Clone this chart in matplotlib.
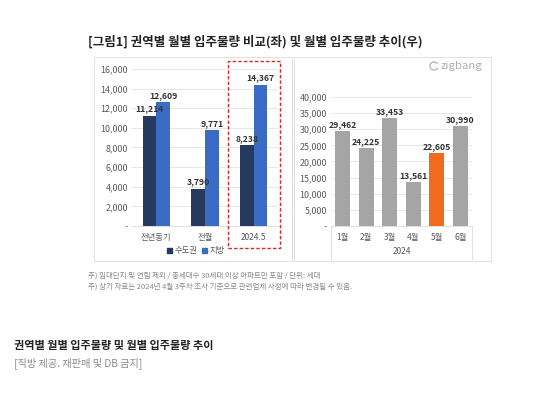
"""
Zigbang chart: regional move-in volume comparison (left) and monthly trend (right).
"""

import matplotlib

matplotlib.use("Agg")
import matplotlib.pyplot as plt
from matplotlib.patches import Rectangle, Arc
from matplotlib.lines import Line2D

plt.rcParams["font.family"] = ["Noto Sans CJK KR", "DejaVu Sans"]

W, H = 546, 397

# left chart data
periods = ["전년동기", "전월", "2024.5"]
capital = [11214, 3790, 8238]
regional = [12609, 9771, 14367]
left_yticks = [0, 2000, 4000, 6000, 8000, 10000, 12000, 14000, 16000]

# right chart data
months = ["1월", "2월", "3월", "4월", "5월", "6월"]
monthly = [29462, 24225, 33453, 13561, 22605, 30990]
right_yticks = [0, 5000, 10000, 15000, 20000, 25000, 30000, 35000, 40000]

NAVY = "#253a5e"
BLUE = "#3b6cc4"
GRAY = "#a5a5a5"
ORANGE = "#f26a1b"
TXT = "#595959"


def px(x0, y0, x1, y1):
    """Pixel box (top-left origin) to figure fraction rect."""
    return [x0 / W, 1 - y1 / H, (x1 - x0) / W, (y1 - y0) / H]


def fmt(v):
    return "-" if v == 0 else f"{v:,}"


def style_axes(ax, ticks):
    ax.set_yticks(ticks)
    ax.set_yticklabels([fmt(t) for t in ticks], fontsize=6.4, color=TXT)
    ax.yaxis.grid(True, color="#e3e3e3", linewidth=0.6)
    ax.set_axisbelow(True)
    for s in ["top", "right", "left"]:
        ax.spines[s].set_visible(False)
    ax.spines["bottom"].set_color("#d9d9d9")
    ax.spines["bottom"].set_linewidth(0.6)
    ax.tick_params(axis="both", length=0, pad=3)


fig = plt.figure(figsize=(W / 100, H / 100), dpi=100)

# panel frames
for box in [(94, 57, 292, 261), (294, 57, 491, 261)]:
    r = px(*box)
    fig.patches.append(Rectangle((r[0], r[1]), r[2], r[3], transform=fig.transFigure,
                                 fill=False, edgecolor="#dcdcdc", linewidth=0.6))

# left chart
ax1 = fig.add_axes(px(132, 69, 278, 226))
x = range(len(periods))
bw = 0.28
ax1.bar([i - bw / 2 for i in x], capital, bw, color=NAVY, label="수도권")
ax1.bar([i + bw / 2 for i in x], regional, bw, color=BLUE, label="지방")
for i in x:
    ax1.text(i - bw / 2, capital[i] + 250, f"{capital[i]:,}", ha="center", va="bottom",
             fontsize=6.2, fontweight="bold", color="#333333")
    ax1.text(i + bw / 2, regional[i] + 250, f"{regional[i]:,}", ha="center", va="bottom",
             fontsize=6.2, fontweight="bold", color="#333333")
ax1.set_xlim(-0.5, 2.5)
ax1.set_ylim(0, 16000)
style_axes(ax1, left_yticks)
ax1.set_xticks(list(x))
ax1.set_xticklabels(periods, fontsize=6.0, color=TXT)
ax1.tick_params(axis="x", pad=5)

handles = [Rectangle((0, 0), 1, 1, color=NAVY), Rectangle((0, 0), 1, 1, color=BLUE)]
fig.legend(handles, ["수도권", "지방"], loc="center", bbox_to_anchor=(196 / W, 1 - 251 / H),
           ncol=2, frameon=False, fontsize=6.0, handlelength=0.6, handleheight=0.6,
           handletextpad=0.3, columnspacing=0.6, labelcolor=TXT)

# red dashed highlight around 2024.5
r = px(228, 61, 280, 248)
fig.patches.append(Rectangle((r[0], r[1]), r[2], r[3], transform=fig.transFigure, fill=False,
                             edgecolor="#d9272e", linewidth=1.0, linestyle=(0, (2.5, 1.5))))

# right chart
ax2 = fig.add_axes(px(331, 97, 472, 226))
colors = [ORANGE if m == "5월" else GRAY for m in months]
ax2.bar(range(len(months)), monthly, 0.63, color=colors)
for i, v in enumerate(monthly):
    ax2.text(i, v + 600, f"{v:,}", ha="center", va="bottom", fontsize=6.2,
             fontweight="bold", color="#333333")
ax2.set_xlim(-0.5, len(months) - 0.5)
ax2.set_ylim(0, 40000)
style_axes(ax2, right_yticks)
ax2.set_xticks(range(len(months)))
ax2.set_xticklabels(months, fontsize=6.0, color=TXT)
ax2.tick_params(axis="x", pad=5)
ax2.set_xlabel("2024", fontsize=6.0, color=TXT, labelpad=4)

# category group separators
for xp in (331, 472):
    fig.add_artist(Line2D([xp / W, xp / W], [1 - 226 / H, 1 - 259 / H],
                          color="#d9d9d9", linewidth=0.6))

# zigbang logo
fig.add_artist(Arc((434 / W, 1 - 66 / H), 8 / W, 8 / H, theta1=40, theta2=330,
                   color="#b5b5b5", linewidth=1.0))
fig.text(441 / W, 1 - 66 / H, "zigbang", fontsize=8.2, color="#b0b0b0", va="center")

# titles and notes
fig.text(88 / W, 1 - 42 / H, "[그림1] 권역별 월별 입주물량 비교(좌) 및 월별 입주물량 추이(우)",
         fontsize=9.0, fontweight="bold", color="#222222", va="center")
fig.text(88 / W, 1 - 276 / H, "주) 임대단지 및 연립 제외 / 총세대수 30세대 이상 아파트만 포함 / 단위: 세대",
         fontsize=5.4, color="#888888", va="center")
fig.text(88 / W, 1 - 287 / H,
         "주) 상기 자료는 2024년 4월 3주차 조사 기준으로 관련업체 사정에 따라 변경될 수 있음.",
         fontsize=5.4, color="#888888", va="center")
fig.text(14 / W, 1 - 345 / H, "권역별 월별 입주물량 및 월별 입주물량 추이",
         fontsize=8.0, fontweight="bold", color="#222222", va="center")
fig.text(14 / W, 1 - 363 / H, "[직방 제공. 재판매 및 DB 금지]",
         fontsize=7.3, color="#8a8a8a", va="center")

fig.savefig("out.png", dpi=100)
